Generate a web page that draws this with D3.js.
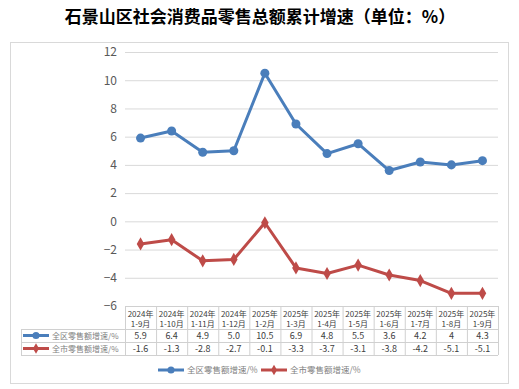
<!DOCTYPE html>
<html>
<head>
<meta charset="utf-8">
<script src="https://cdn.jsdelivr.net/npm/d3@7"></script>
<style>
  body { margin: 0; background: #fff; }
  text { font-family: "Noto Sans CJK SC", "DejaVu Sans", sans-serif; }
</style>
</head>
<body>
<div id="chart"></div>
<script>
// categories: year line and month line of each column
let years = ["2024年","2024年","2024年","2024年","2025年","2025年","2025年","2025年","2025年","2025年","2025年","2025年"]
let months = ["1-9月","1-10月","1-11月","1-12月","1-2月","1-3月","1-4月","1-5月","1-6月","1-7月","1-8月","1-9月"]

// series
let districtName = "全区零售额增速/%"
let districtValues = [5.9, 6.4, 4.9, 5.0, 10.5, 6.9, 4.8, 5.5, 3.6, 4.2, 4, 4.3]
let districtLabels = ["5.9","6.4","4.9","5.0","10.5","6.9","4.8","5.5","3.6","4.2","4","4.3"]
let cityName = "全市零售额增速/%"
let cityValues = [-1.6, -1.3, -2.8, -2.7, -0.1, -3.3, -3.7, -3.1, -3.8, -4.2, -5.1, -5.1]
let cityLabels = ["-1.6","-1.3","-2.8","-2.7","-0.1","-3.3","-3.7","-3.1","-3.8","-4.2","-5.1","-5.1"]

let yTicks = [-6, -4, -2, 0, 2, 4, 6, 8, 10, 12]

const W = 519, H = 389
const pLeft = 125, pRight = 498, pTop = 52, pBottom = 306
const blue = "#4a7ebb", red = "#be4b48"
const grid = "#d9d9d9"

let svg = d3.select("#chart").append("svg")
  .attr("width", W).attr("height", H)

// chart frame
svg.append("rect")
  .attr("x", 10.5).attr("y", 42.5)
  .attr("width", 498).attr("height", 341)
  .attr("fill", "none").attr("stroke", "#d9d9d9")

// title
svg.append("text")
  .attr("x", 260).attr("y", 23)
  .attr("text-anchor", "middle")
  .attr("font-size", 17).attr("font-weight", "bold")
  .attr("fill", "#000")
  .text("石景山区社会消费品零售总额累计增速（单位：%）")

let x = d3.scaleBand().domain(d3.range(months.length)).range([pLeft, pRight])
let y = d3.scaleLinear().domain([-6, 12]).range([pBottom, pTop])

// gridlines + y labels
let yAxis = d3.axisLeft(y).tickValues(yTicks).tickSize(-(pRight - pLeft)).tickPadding(8)
let ga = svg.append("g").attr("transform", `translate(${pLeft},0)`).call(yAxis)
ga.select(".domain").remove()
ga.selectAll(".tick line").attr("stroke", grid)
ga.selectAll(".tick text").attr("font-size", 12).attr("fill", "#595959")
  .attr("font-family", "Liberation Sans, Arial, sans-serif")

// lines
function drawSeries(values, color, shape) {
  let line = d3.line().x((d, i) => x(i) + x.bandwidth() / 2).y(d => y(d))
  svg.append("path").datum(values)
    .attr("d", line).attr("fill", "none")
    .attr("stroke", color).attr("stroke-width", 3).attr("stroke-linejoin", "round")
  svg.append("g").selectAll("path")
    .data(values).enter().append("path")
    .attr("transform", (d, i) => `translate(${x(i) + x.bandwidth() / 2},${y(d)})`)
    .attr("d", d3.symbol().type(shape).size(shape === d3.symbolCircle ? 64 : 50))
    .attr("fill", color)
}
drawSeries(districtValues, blue, d3.symbolCircle)
drawSeries(cityValues, red, d3.symbolDiamond)

// data table
const tLeft = 21, r0 = 306, r1 = 329, r2 = 342, r3 = 355
const tb = "#d0d0d0"
let table = svg.append("g")
let hl = (x1, x2, yy) => table.append("line").attr("x1", x1).attr("x2", x2)
  .attr("y1", yy + 0.5).attr("y2", yy + 0.5).attr("stroke", tb)
hl(pLeft, pRight, r0); hl(tLeft, pRight, r1); hl(tLeft, pRight, r2); hl(tLeft, pRight, r3)
let vl = (xx, y1) => table.append("line").attr("x1", xx + 0.5).attr("x2", xx + 0.5)
  .attr("y1", y1).attr("y2", r3).attr("stroke", tb)
vl(tLeft, r1)
d3.range(months.length + 1).forEach(i => vl(i < months.length ? x(i) : pRight, r0))

let cell = table.selectAll("g.col").data(months).enter().append("g")
  .attr("transform", (d, i) => `translate(${x(i) + x.bandwidth() / 2},0)`)
  .attr("fill", "#404040").attr("text-anchor", "middle")
cell.append("text").attr("y", 317).attr("font-size", 8).text((d, i) => years[i])
cell.append("text").attr("y", 327).attr("font-size", 8).text(d => d)
cell.append("text").attr("y", 339).attr("font-size", 9).text((d, i) => districtLabels[i])
cell.append("text").attr("y", 352).attr("font-size", 9).text((d, i) => cityLabels[i])

function legendKey(g, x0, yy, color, shape, name, fs) {
  g.append("line").attr("x1", x0).attr("x2", x0 + 26).attr("y1", yy).attr("y2", yy)
    .attr("stroke", color).attr("stroke-width", 3)
  g.append("path").attr("transform", `translate(${x0 + 13},${yy})`)
    .attr("d", d3.symbol().type(shape).size(shape === d3.symbolCircle ? 40 : 32)).attr("fill", color)
  g.append("text").attr("x", x0 + 29).attr("y", yy + 3)
    .attr("font-size", fs).attr("fill", "#7f7f7f").text(name)
}
legendKey(table, 23, 335.5, blue, d3.symbolCircle, districtName, 8)
legendKey(table, 23, 348.5, red, d3.symbolDiamond, cityName, 8)

// bottom legend
let lg = svg.append("g")
legendKey(lg, 158, 370, blue, d3.symbolCircle, districtName, 8.5)
legendKey(lg, 261, 370, red, d3.symbolDiamond, cityName, 8.5)
</script>
</body>
</html>
